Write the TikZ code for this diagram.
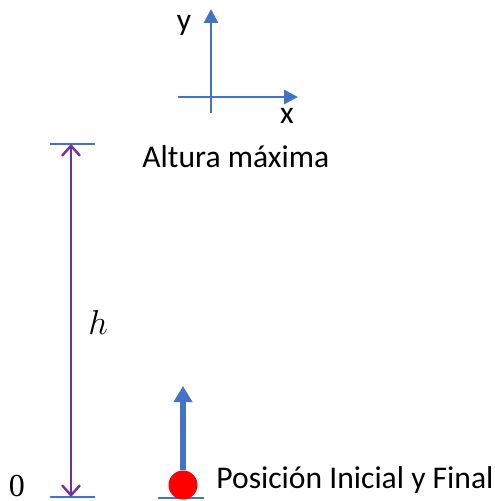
\documentclass[tikz,border=0pt]{standalone}
\usepackage{fontspec}
\setmainfont{Carlito}
\newfontfamily\zerofont{Liberation Serif}
\usepackage{tikz}
\usetikzlibrary{arrows.meta, positioning}

\definecolor{axisblue}{HTML}{4472C4}
\definecolor{hpurple}{HTML}{7030A0}

\begin{document}
\begin{tikzpicture}[
    x=0.5pt, y=-0.5pt,
    font=\fontsize{15.8}{18}\selectfont,
    axis/.style={
        draw=axisblue,
        line width=1.4pt,
        -{Triangle[length=7pt, width=7pt]}
    },
    tick/.style={
        draw=axisblue,
        line width=0.6pt
    },
    height/.style={
        draw=hpurple,
        line width=1.2pt,
        {Straight Barb[length=5pt, width=9pt]}-{Straight Barb[length=5pt, width=9pt]}
    },
    label/.style={
        inner sep=0pt,
        anchor=west
    }
]

\useasboundingbox (0,0) rectangle (494,501);

% Axes
\coordinate (xstart) at (178,97);
\coordinate (xend) at (298,97);
\coordinate (ystart) at (211,113);
\coordinate (yend) at (211,9);
\draw[axis] (xstart) -- (xend);
\draw[axis] (ystart) -- (yend);
\node (ylab) at (184,26) {y};
\node (xlab) at (287,116) {x};

% Height marks
\coordinate (toptl) at (50,144);
\coordinate (toptr) at (95,144);
\coordinate (bottl) at (50,497);
\coordinate (bottr) at (95,497);
\draw[tick] (toptl) -- (toptr);
\draw[tick] (bottl) -- (bottr);
\coordinate (htop) at (71,144);
\coordinate (hbot) at (71,497);
\draw[height] (hbot) -- (htop);
\node[font=\fontsize{17}{19}\selectfont] (hlab) at (98,322) {$h$};
\node[font=\fontsize{16}{18}\zerofont, inner sep=0pt] (zero) at (17,486) {0};
\node[label] (maxlab) at (142,157) {Altura máxima};

% Ball
\coordinate (groundl) at (158,498);
\coordinate (groundr) at (204,498);
\draw[tick] (groundl) -- (groundr);
\node[circle, fill=red, minimum size=14.5pt, inner sep=0pt] (ball) at (183,485) {};
\coordinate (vtip) at (183,386);
\draw[axis, line width=2.6pt, -{Triangle[length=8pt, width=9pt]}] (ball.north) -- (vtip);
\node[label] (poslab) at (216,480) {Posición Inicial y Final};

\end{tikzpicture}
\end{document}
